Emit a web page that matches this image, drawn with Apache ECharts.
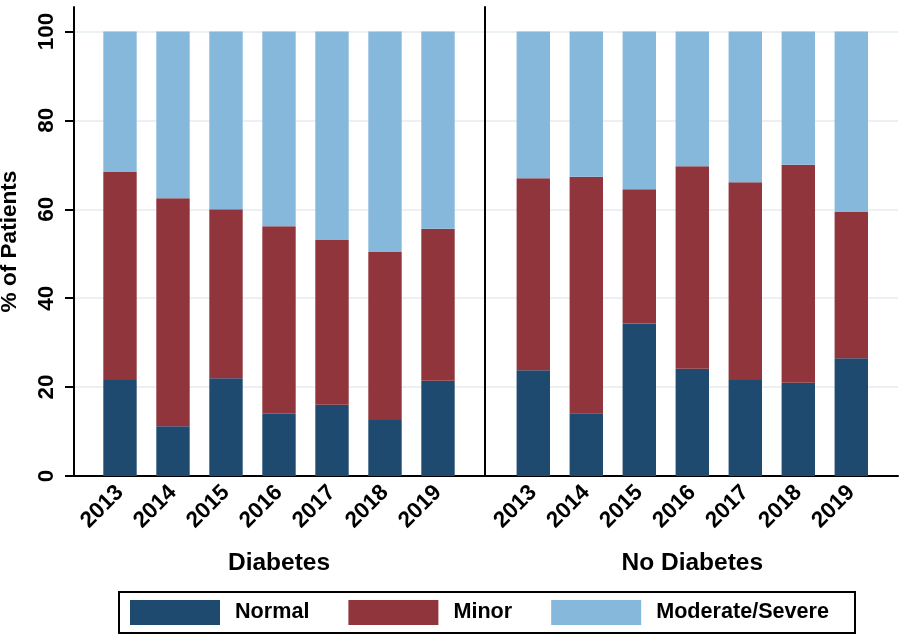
<!DOCTYPE html>
<html>
<head>
<meta charset="utf-8">
<script src="https://cdn.jsdelivr.net/npm/echarts@6/dist/echarts.min.js"></script>
<style>
html,body{margin:0;padding:0;background:#fff;}
#chart{width:904px;height:636px;}
</style>
</head>
<body>
<div id="chart"></div>
<script>
// ---- data ----
const years = ['2013', '2014', '2015', '2016', '2017', '2018', '2019'];
const groupNames = ['Diabetes', 'No Diabetes'];
const levelNames = ['Normal', 'Minor', 'Moderate/Severe'];
const diabNormal   = [21.6, 11.2, 22.0, 14.0, 16.0, 12.6, 21.4];
const diabMinor    = [46.8, 51.3, 38.0, 42.2, 37.1, 37.8, 34.2];
const diabSevere   = [31.6, 37.5, 40.0, 43.8, 46.9, 49.6, 44.4];
const noDiabNormal = [23.8, 14.1, 34.3, 24.1, 21.6, 21.0, 26.5];
const noDiabMinor  = [43.2, 53.2, 30.2, 45.6, 44.5, 49.0, 32.9];
const noDiabSevere = [33.0, 32.7, 35.5, 30.3, 33.9, 30.0, 40.6];
const yTicks = [0, 20, 40, 60, 80, 100];

// ---- style ----
const colors = ['#1f4a70', '#90353b', '#86b8dc'];
const FONT = 'Liberation Sans, Arial, Helvetica, sans-serif';
const black = '#000';

const chart = echarts.init(document.getElementById('chart'), null, {renderer: 'canvas'});

const groups = [
  [diabNormal, diabMinor, diabSevere],
  [noDiabNormal, noDiabMinor, noDiabSevere]
];

const series = [];
groups.forEach((g, gi) => {
  g.forEach((vals, li) => {
    series.push({
      name: levelNames[li],
      type: 'bar',
      xAxisIndex: gi + 1,
      yAxisIndex: gi + 1,
      stack: 'g' + gi,
      barCategoryGap: '37%',
      itemStyle: {color: colors[li]},
      emphasis: {disabled: true},
      data: vals
    });
  });
});

const xLabel = {rotate: 45, fontSize: 22.5, fontWeight: 'bold', color: black, fontFamily: FONT, margin: 13, interval: 0};
const xName = {fontSize: 24.5, fontWeight: 'bold', color: black, fontFamily: FONT};

const option = {
  animation: false,
  backgroundColor: '#fff',
  textStyle: {fontFamily: FONT, color: black},
  grid: [
    {left: 74, top: 7, width: 824, height: 469, outerBoundsMode: 'none'},
    {left: 93.5, top: 7, width: 371, height: 469, outerBoundsMode: 'none'},
    {left: 506.8, top: 7, width: 371, height: 469, outerBoundsMode: 'none'}
  ],
  legend: {
    data: levelNames,
    left: 119, top: 592,
    padding: [8, 26, 8, 11],
    itemWidth: 90, itemHeight: 25, itemGap: 39,
    icon: 'rect',
    borderColor: black, borderWidth: 2, borderRadius: 0,
    selectedMode: false,
    textStyle: {fontFamily: FONT, fontSize: 21.6, fontWeight: 'bold', color: black, padding: [0, 0, 0, 10]}
  },
  xAxis: [
    {
      gridIndex: 0, type: 'value', min: 0, max: 1,
      axisLine: {show: true, lineStyle: {color: black, width: 2}},
      axisTick: {show: false}, axisLabel: {show: false}, splitLine: {show: false}
    },
    {
      gridIndex: 1, type: 'category', data: years,
      axisLine: {show: false}, axisTick: {show: false},
      axisLabel: xLabel,
      name: groupNames[0], nameLocation: 'middle', nameGap: 75, nameMoveOverlap: false,
      nameTextStyle: xName
    },
    {
      gridIndex: 2, type: 'category', data: years,
      axisLine: {show: false}, axisTick: {show: false},
      axisLabel: xLabel,
      name: groupNames[1], nameLocation: 'middle', nameGap: 75, nameMoveOverlap: false,
      nameTextStyle: xName
    }
  ],
  yAxis: [
    {
      gridIndex: 0, type: 'value', min: 0, max: 105.5,
      axisLine: {show: true, lineStyle: {color: black, width: 2}},
      axisTick: {show: true, length: 9, lineStyle: {color: black, width: 2}, customValues: yTicks},
      axisLabel: {rotate: 90, fontSize: 22.5, fontWeight: 'bold', color: black, fontFamily: FONT, margin: 16, customValues: yTicks},
      splitLine: {show: true, lineStyle: {color: '#e4ecef', width: 1.5}},
      name: '% of Patients', nameLocation: 'middle', nameGap: 53, nameMoveOverlap: false,
      nameTextStyle: {fontSize: 22.6, fontWeight: 'bold', color: black, fontFamily: FONT}
    },
    {
      gridIndex: 1, type: 'value', min: 0, max: 105.5, show: false
    },
    {
      gridIndex: 2, type: 'value', min: 0, max: 105.5, offset: 21.8,
      axisLine: {show: true, lineStyle: {color: black, width: 2}},
      axisTick: {show: false}, axisLabel: {show: false}, splitLine: {show: false}
    }
  ],
  series: series
};

chart.setOption(option);
</script>
</body>
</html>
